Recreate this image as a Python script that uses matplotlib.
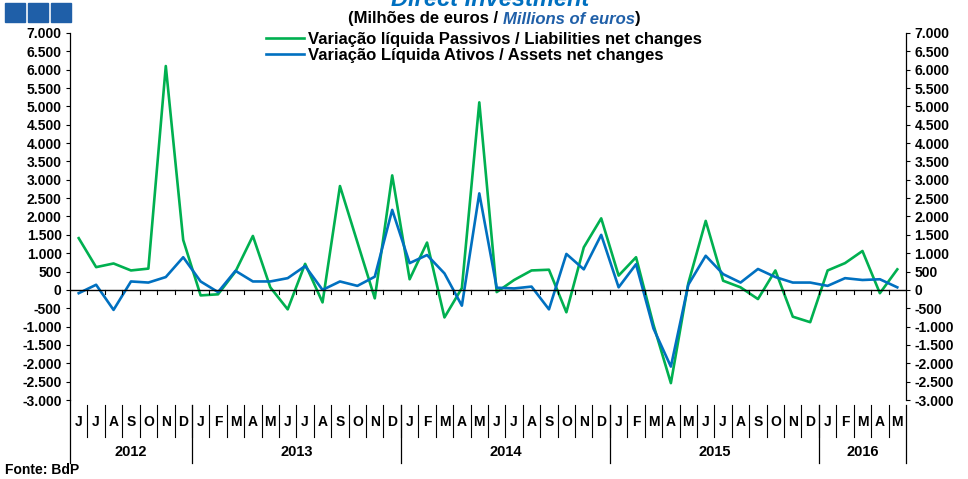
import numpy as np
import matplotlib.pyplot as plt
from matplotlib.patches import Rectangle
from matplotlib.transforms import blended_transform_factory

# months from June 2012 to May 2016
months = ['J', 'J', 'A', 'S', 'O', 'N', 'D'] + \
         ['J', 'F', 'M', 'A', 'M', 'J', 'J', 'A', 'S', 'O', 'N', 'D'] * 3 + \
         ['J', 'F', 'M', 'A', 'M']
years = ['2012', '2013', '2014', '2015', '2016']
year_len = [7, 12, 12, 12, 5]

# Variação líquida Passivos / Liabilities net changes
liabilities = [1410, 620, 720, 530, 580, 6100, 1360, -150, -120, 500, 1470, 70,
               -530, 710, -340, 2830, 1300, -230, 3120, 290, 1290, -750, 50, 5110,
               -60, 270, 530, 550, -610, 1160, 1950, 390, 890, -950, -2540, 180,
               1880, 250, 70, -250, 530, -730, -880, 530, 730, 1060, -90, 560]
# Variação líquida Ativos / Assets net changes
assets = [-90, 140, -545, 230, 200, 350, 890, 230, -60, 520, 230, 230,
          320, 650, 0, 230, 110, 360, 2180, 730, 950, 450, -430, 2630,
          60, 40, 90, -530, 980, 560, 1500, 70, 700, -1050, -2090, 140,
          930, 430, 200, 570, 350, 200, 200, 110, 320, 270, 290, 70]

green = '#00B050'
blue = '#0070C0'
plain = ['Liberation Sans', 'DejaVu Sans']
plt.rcParams['font.family'] = ['Liberation Sans Narrow', 'Liberation Sans', 'DejaVu Sans']

W, H = 968, 479
fig = plt.figure(figsize=(W / 100, H / 100), dpi=100)
ax = fig.add_axes([70 / W, 1 - 400 / H, (906 - 70) / W, (400 - 33) / H])

n = len(months)
x = np.arange(n) + 0.5
ax.plot(x, liabilities, color=green, lw=1.9, label='Variação líquida Passivos / Liabilities net changes')
ax.plot(x, assets, color=blue, lw=1.9, label='Variação Líquida Ativos / Assets net changes')

ax.set_xlim(0, n)
ax.set_ylim(-3000, 7000)
yt = np.arange(-3000, 7001, 500)
ax.set_yticks(yt)
lbl = [f'{v:,}'.replace(',', '.') for v in yt]
ax.set_yticklabels(lbl, fontsize=10, fontweight='bold')
ax.tick_params(axis='y', direction='out', length=3, width=0.8, pad=3,
               right=True, labelright=True)
ax.set_xticks([])
for s in ['top', 'bottom']:
    ax.spines[s].set_visible(False)
for s in ['left', 'right']:
    ax.spines[s].set_linewidth(0.9)

# zero line with small ticks
ax.axhline(0, color='black', lw=1.0)
for i in range(1, n):
    ax.plot([i, i], [0, -110], color='black', lw=0.8)

# month / year labels under the plot
tr = blended_transform_factory(ax.transData, fig.transFigure)
yfig = lambda p: 1 - p / H
for i, m in enumerate(months):
    fig.text(i + 0.5, yfig(422), m, transform=tr, fontsize=10, fontweight='bold',
             ha='center', va='center', family=plain)
for i in range(1, n):
    fig.add_artist(plt.Line2D([i, i], [yfig(405), yfig(437)], transform=tr, color='black', lw=0.8))
start = 0
for y, L in zip(years, year_len):
    fig.text(start + L / 2, yfig(452), y, transform=tr, fontsize=10.5, fontweight='bold',
             ha='center', va='center', family=plain)
    start += L
    fig.add_artist(plt.Line2D([start, start], [yfig(405), yfig(463)], transform=tr, color='black', lw=0.9))
fig.add_artist(plt.Line2D([0, 0], [yfig(400), yfig(463)], transform=tr, color='black', lw=0.9))

# legend
leg = ax.legend(loc='upper center', bbox_to_anchor=(0.495, 1.02), frameon=False,
                prop={'family': plain, 'size': 12, 'weight': 'bold'},
                handlelength=2.3, handletextpad=0.2, labelspacing=0.05, borderaxespad=0)
leg._legend_box.align = 'left'

# header: squares, title, subtitle
for k in range(3):
    fig.add_artist(Rectangle(((5 + k * 23) / W, yfig(22)), 20 / W, 19 / H,
                             transform=fig.transFigure, color='#1F5FA8'))
fig.text(490 / W, yfig(0), 'Direct Investment', fontsize=17, fontweight='bold', style='italic',
         color=blue, ha='center', va='center', family=plain)

fig.canvas.draw()
r = fig.canvas.get_renderer()
parts = [('(Milhões de euros / ', 'black', 'normal'),
         ('Millions of euros', '#1F5FA8', 'italic'),
         (')', 'black', 'normal')]
texts = [fig.text(0, yfig(19), s, color=c, style=st, fontsize=12, fontweight='bold',
                  va='center', ha='left', family=plain) for s, c, st in parts]
widths = [t.get_window_extent(r).width for t in texts]
xpix = 494 - sum(widths) / 2
for t, w in zip(texts, widths):
    t.set_position((xpix / W, yfig(19)))
    xpix += w

fig.text(5 / W, yfig(470), 'Fonte: BdP', fontsize=10, fontweight='bold',
         va='center', ha='left', family=plain)

fig.savefig('out.png', dpi=100)
